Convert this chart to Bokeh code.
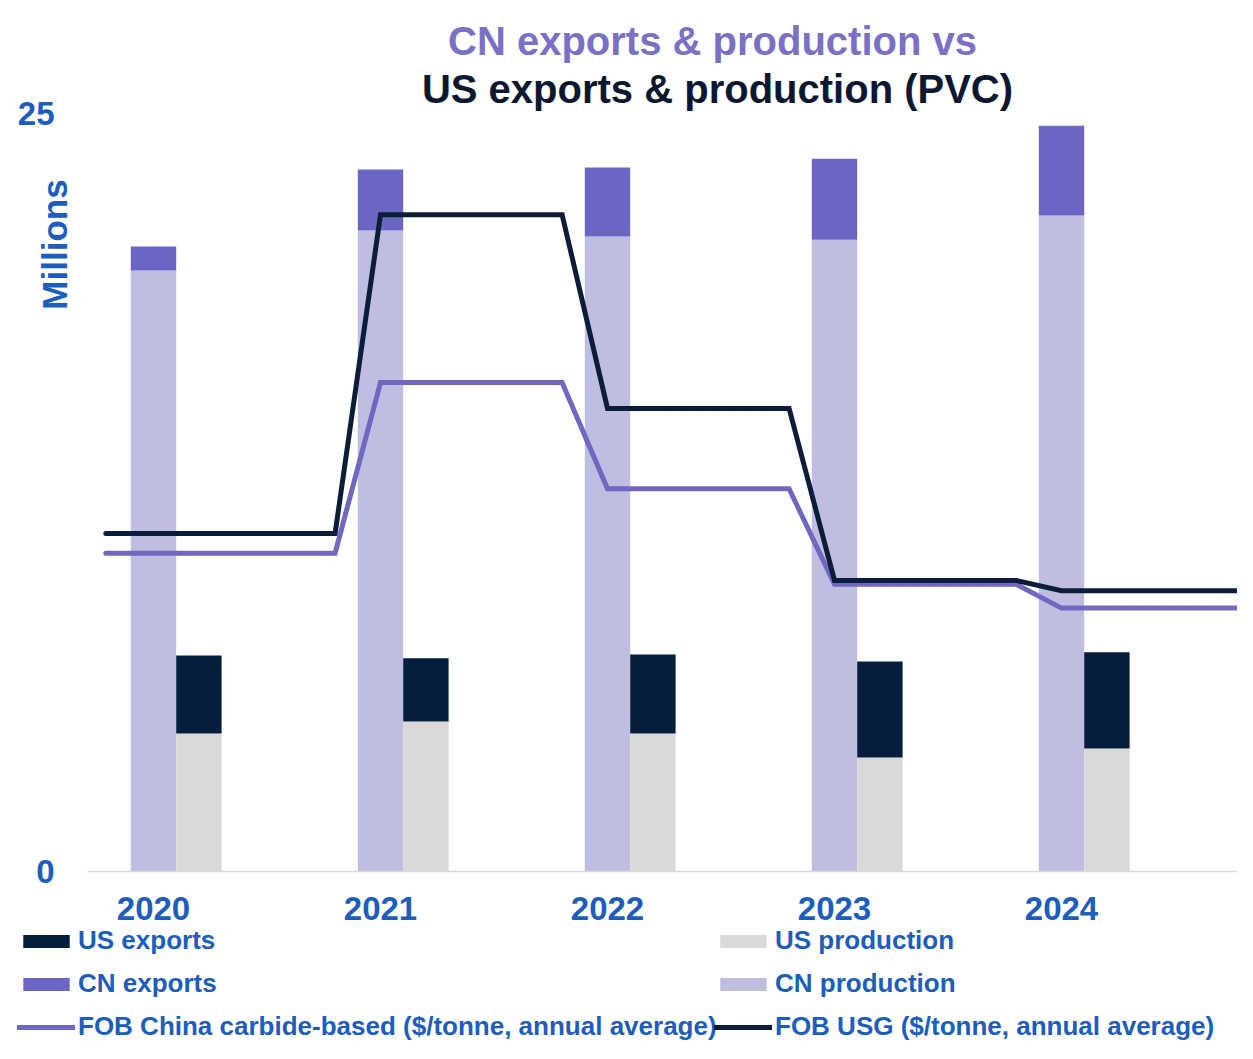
import math
from bokeh.plotting import figure
from bokeh.models import (Range1d, FixedTicker, Label, Legend, LegendItem,
                          ColumnDataSource, LinearAxis)
from bokeh.embed import file_html
from bokeh.resources import INLINE

# ---------------- data ----------------
years = [2020, 2021, 2022, 2023, 2024]
year_labels = ["2020", "2021", "2022", "2023", "2024"]
cn_production = [19.82, 21.14, 20.94, 20.84, 21.64]   # millions of tonnes
cn_exports = [0.79, 2.01, 2.28, 2.67, 2.96]
us_production = [4.55, 4.95, 4.55, 3.76, 4.06]
us_exports = [2.57, 2.08, 2.61, 3.17, 3.17]
fob_china = [840, 1290, 1010, 758, 695]              # $/tonne, annual average
fob_usg = [892, 1733, 1222, 768, 741]
fob_start = [2019.79, 2021.0, 2022.0, 2023.0, 2024.0]  # period covered by each annual average
fob_end = [2020.80, 2021.80, 2022.80, 2023.80, 2024.81]

# ---------------- styles ----------------
FONT = "Liberation Sans"
BLUE = "#1c5dbd"
C_CN_PROD = "#c0bde3"
C_CN_EXP = "#6b66c3"
C_US_PROD = "#d9d9d9"
C_US_EXP = "#061e3e"
C_LINE_CN = "#7167c0"
C_LINE_US = "#0c1d3a"
BAR_W = 0.2
W, H = 1237, 1043

# the frame fills the whole canvas; axes are pinned inside it
X_START, X_END = 2019.326, 2024.7753
Y_START, Y_END = -5.673, 28.727
AXIS_X = 2019.7093

p = figure(width=W, height=H, output_backend="svg", toolbar_location=None,
           x_range=Range1d(X_START, X_END), y_range=Range1d(Y_START, Y_END),
           min_border=0, x_axis_location=None, y_axis_location=None, title=None)
p.extra_y_ranges = {"price": Range1d(-453.8, 2298.2)}
p.outline_line_color = None
p.grid.visible = False
p.background_fill_color = "white"
p.border_fill_color = "white"

cn_total = [a + b for a, b in zip(cn_production, cn_exports)]
us_total = [a + b for a, b in zip(us_production, us_exports)]
src = ColumnDataSource(dict(
    x_cn=years, x_us=[y + BAR_W for y in years],
    cn_prod=cn_production, cn_tot=cn_total,
    us_prod=us_production, us_tot=us_total,
))

r_cn_prod = p.vbar(x="x_cn", width=BAR_W, bottom=0, top="cn_prod", source=src,
                   fill_color=C_CN_PROD, line_color=None)
r_cn_exp = p.vbar(x="x_cn", width=BAR_W, bottom="cn_prod", top="cn_tot", source=src,
                  fill_color=C_CN_EXP, line_color=None)
r_us_prod = p.vbar(x="x_us", width=BAR_W, bottom=0, top="us_prod", source=src,
                   fill_color=C_US_PROD, line_color=None)
r_us_exp = p.vbar(x="x_us", width=BAR_W, bottom="us_prod", top="us_tot", source=src,
                  fill_color=C_US_EXP, line_color=None)

line_x, cn_y, us_y = [], [], []
for s, e, c, u in zip(fob_start, fob_end, fob_china, fob_usg):
    line_x += [s, e]
    cn_y += [c, c]
    us_y += [u, u]

r_line_cn = p.line(line_x, cn_y, y_range_name="price", line_width=5, line_color=C_LINE_CN,
                   line_join="miter", line_cap="round")
r_line_us = p.line(line_x, us_y, y_range_name="price", line_width=5, line_color=C_LINE_US,
                   line_join="miter", line_cap="round")

# ---------------- axes ----------------
xaxis = LinearAxis(fixed_location=0, bounds=(AXIS_X, X_END),
                   ticker=FixedTicker(ticks=years),
                   major_label_overrides={y: l for y, l in zip(years, year_labels)})
yaxis = LinearAxis(fixed_location=AXIS_X, ticker=FixedTicker(ticks=[0, 25]))
for ax in (xaxis, yaxis):
    ax.major_tick_line_color = None
    ax.minor_tick_line_color = None
    ax.major_tick_out = 0
    ax.major_tick_in = 0
    ax.minor_tick_out = 0
    ax.minor_tick_in = 0
    ax.major_label_text_font = FONT
    ax.major_label_text_font_style = "bold"
    ax.major_label_text_font_size = "33px"
    ax.major_label_text_color = BLUE
xaxis.axis_line_color = "#d9d9d9"
xaxis.axis_line_width = 1.5
xaxis.major_label_standoff = 26
yaxis.axis_line_color = None
yaxis.major_label_standoff = 33
p.add_layout(xaxis, "below")
p.add_layout(yaxis, "left")

# ---------------- texts ----------------
def screen_label(text, x, y, size, color, **kw):
    p.add_layout(Label(x=x, y=y, x_units="screen", y_units="screen", text=text,
                       text_font=FONT, text_font_style="bold", text_font_size=size,
                       text_color=color, **kw))

screen_label("CN exports & production vs", 712, H - 40, "40px", "#7a70c6",
             text_align="center", text_baseline="alphabetic")
screen_label("US exports & production (PVC)", 717, H - 88, "40px", "#0c1830",
             text_align="center", text_baseline="alphabetic")
screen_label("Millions", 53.5, H - 244, "35px", BLUE, angle=math.pi / 2,
             text_align="center", text_baseline="middle")

# ---------------- legends ----------------
def make_legend(items, loc):
    leg = Legend(items=items, location=loc, orientation="vertical",
                 padding=0, margin=0, spacing=12, label_height=30,
                 glyph_width=58, glyph_height=16, label_standoff=3,
                 label_text_font=FONT, label_text_font_style="bold",
                 label_text_font_size="26px", label_text_color=BLUE,
                 background_fill_alpha=0, border_line_color=None)
    p.add_layout(leg, "center")

make_legend([LegendItem(label="US exports", renderers=[r_us_exp]),
             LegendItem(label="CN exports", renderers=[r_cn_exp]),
             LegendItem(label="FOB China carbide-based ($/tonne, annual average)", renderers=[r_line_cn])],
            (17, 1))
make_legend([LegendItem(label="US production", renderers=[r_us_prod]),
             LegendItem(label="CN production", renderers=[r_cn_prod]),
             LegendItem(label="FOB USG ($/tonne, annual average)", renderers=[r_line_us])],
            (714, 1))

open("out.html", "w").write(file_html(p, INLINE))
